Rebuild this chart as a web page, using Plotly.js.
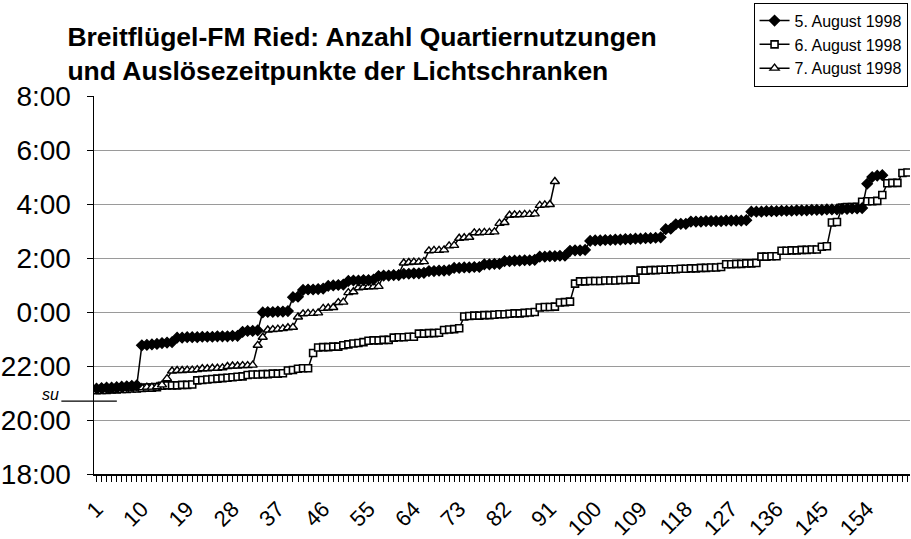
<!DOCTYPE html>
<html>
<head>
<meta charset="utf-8">
<script src="https://cdn.plot.ly/plotly-3.0.1.min.js"></script>
<style>html,body{margin:0;padding:0;background:#fff;}#chart{width:911px;height:539px;}</style>
</head>
<body>
<div id="chart"></div>
<script>
// Series names
const seriesNames = ["5. August 1998", "6. August 1998", "7. August 1998"];

// Release times (clock time) per use number
const aug5 = [
 "21:10","21:11","21:12","21:12","21:13","21:14","21:15","21:16","21:17",
 "22:46","22:47","22:48","22:49","22:51","22:52","22:53",
 "23:03","23:03","23:04","23:04","23:04","23:05","23:05","23:05","23:06","23:06","23:06","23:07","23:07",
 "23:16","23:18","23:18","23:19",
 "23:59","0:00","0:00","0:01","0:01","0:02",
 "0:33","0:34",
 "0:49","0:50","0:50","0:51","0:52",
 "0:58","0:59","1:00","1:01",
 "1:09","1:10","1:10","1:11","1:11","1:12",
 "1:20","1:21","1:21","1:22","1:22",
 "1:25","1:25","1:26","1:26","1:27",
 "1:31","1:31","1:32","1:32","1:33",
 "1:38","1:38","1:39","1:39","1:40","1:40",
 "1:46","1:46","1:47","1:47",
 "1:53","1:53","1:54","1:54","1:55","1:55","1:56",
 "2:03","2:03","2:04","2:04","2:05","2:05",
 "2:16","2:17","2:17","2:18",
 "2:38","2:39","2:39","2:40","2:40","2:41","2:41","2:42","2:42","2:43","2:43","2:44","2:44","2:45","2:46",
 "3:04","3:05",
 "3:15","3:16","3:16",
 "3:21","3:21","3:21","3:22","3:22","3:22","3:22","3:23","3:23","3:23","3:23","3:24",
 "3:43","3:43","3:43","3:44","3:44","3:44","3:45","3:45","3:45","3:46","3:46","3:46","3:47","3:47","3:47","3:48","3:48","3:48","3:49","3:49","3:50","3:50","3:51",
 "4:45","5:00","5:03","5:04"
];

const aug6 = [
 "21:06","21:07","21:07","21:08","21:08","21:09","21:09","21:10","21:10","21:11","21:12","21:12","21:13",
 "21:16","21:17","21:17","21:17","21:18","21:18","21:19",
 "21:28","21:29","21:30","21:31","21:32","21:33","21:34","21:35","21:36","21:37",
 "21:40","21:41","21:41","21:42","21:42","21:43","21:43","21:44",
 "21:50","21:51",
 "21:54","21:55","21:55",
 "22:29",
 "22:41","22:42","22:42","22:43","22:43",
 "22:46","22:48","22:50","22:51","22:53","22:56","22:57","22:57","22:58","22:58","23:03","23:04","23:04","23:05","23:05",
 "23:12","23:12","23:13","23:13","23:14",
 "23:20","23:21","23:22","23:24",
 "23:50","23:51","23:52","23:52","23:53","23:53","23:54","23:55","23:55","23:56","23:57","23:57","23:58","23:59","0:00",
 "0:10","0:11","0:11","0:12",
 "0:21","0:22","0:23",
 "1:03",
 "1:08","1:08","1:09","1:09","1:09","1:10","1:10","1:10","1:11","1:11","1:12","1:12",
 "1:32","1:32","1:33","1:33","1:34","1:34","1:35","1:35","1:36","1:36","1:37","1:37","1:38","1:38","1:39","1:39","1:40",
 "1:46","1:46","1:47","1:47","1:48","1:48","1:49",
 "2:03","2:03","2:04","2:04",
 "2:16","2:16","2:17","2:17","2:18","2:18","2:19","2:19",
 "2:25","2:26",
 "3:19","3:20",
 "3:52","3:53","3:53","3:54",
 "4:05","4:06","4:06","4:07",
 "4:20",
 "4:46","4:47","4:47",
 "5:09","5:10"
];

const aug7 = [
 "21:08","21:08","21:09","21:09","21:10","21:10","21:11","21:11","21:12","21:12","21:13","21:13","21:14",
 "21:18","21:32",
 "21:49","21:50","21:50","21:51","21:51","21:52",
 "21:54","21:54","21:55","21:55","21:56",
 "21:59","22:00","22:00","22:01","22:01","22:02",
 "22:46",
 "23:04",
 "23:20","23:21","23:22","23:23","23:25","23:26",
 "23:49","23:56","23:57","23:57","23:58",
 "0:08","0:09","0:10",
 "0:21","0:22",
 "0:43","0:45",
 "0:54","0:55","0:56","0:56","0:57",
 "1:21","1:22","1:23","1:24",
 "1:49","1:50","1:51","1:51","1:52",
 "2:16","2:17","2:17","2:18",
 "2:27","2:28",
 "2:44","2:45","2:46",
 "2:56","2:56","2:57","2:57","2:58",
 "3:17","3:19",
 "3:35","3:36","3:36","3:37","3:37","3:38",
 "3:57","3:58","3:59",
 "4:50"
];

// Axis tick labels
const xTickLabels = ["1","10","19","28","37","46","55","64","73","82","91","100","109","118","127","136","145","154"];
const categoryCount = 162;
const yTickLabels = ["18:00","20:00","22:00","0:00","2:00","4:00","6:00","8:00"];

// hours after 18:00 of the evening
function toHours(t) {
  const p = t.split(":");
  let h = parseInt(p[0], 10) + parseInt(p[1], 10) / 60;
  if (h < 12) h += 24;
  return h - 18;
}

const categories = [];
for (let i = 1; i <= categoryCount; i++) categories.push(i);

function trace(vals, name, symbol, fill, size, lw, rank) {
  return {
    type: "scatter", mode: "lines+markers", name: name,
    x: vals.map((v, i) => i + 1),
    y: vals.map(toHours),
    text: vals,
    legendrank: rank,
    line: {color: "#000", width: 1.5},
    marker: {symbol: symbol, size: size, color: fill, line: {color: "#000", width: lw}}
  };
}

const data = [
  trace(aug6, seriesNames[1], "square", "#fff", 7, 1.6, 2),
  trace(aug7, seriesNames[2], "triangle-up", "#fff", 8, 1.4, 3),
  trace(aug5, seriesNames[0], "diamond", "#000", 8, 1.3, 1)
];

const ticktextX = categories.map(c => xTickLabels.indexOf(String(c)) >= 0 ? String(c) : "");
const tickvalsY = yTickLabels.map(toHours);

const font = "Liberation Sans, Arial, sans-serif";

const layout = {
  width: 911, height: 539,
  margin: {l: 94, r: 1, t: 96, b: 65},
  paper_bgcolor: "#fff", plot_bgcolor: "#fff",
  font: {family: font, color: "#000"},
  showlegend: true,
  title: {
    text: "<b>Breitflügel-FM Ried: Anzahl Quartiernutzungen<br>und Auslösezeitpunkte der Lichtschranken</b>",
    font: {family: font, size: 26.5, color: "#000"},
    xref: "container", x: 0.074, xanchor: "left",
    yref: "container", y: 0.915, yanchor: "top"
  },
  xaxis: {
    range: [0.5, categoryCount + 0.5],
    tickvals: categories, ticktext: ticktextX,
    tickangle: -45,
    ticks: "outside", ticklen: 6, tickcolor: "#000", tickwidth: 1,
    ticklabelstandoff: 6,
    showline: true, linecolor: "#000", linewidth: 1.5,
    showgrid: false, zeroline: false,
    tickfont: {family: font, size: 22, color: "#000"}
  },
  yaxis: {
    range: [0, 14],
    tickvals: tickvalsY, ticktext: yTickLabels,
    ticks: "outside", ticklen: 6, tickcolor: "#000",
    ticklabelstandoff: 10,
    showline: true, linecolor: "#000", linewidth: 1.5,
    showgrid: true, gridcolor: "#9a9a9a", gridwidth: 1,
    zeroline: false,
    tickfont: {family: font, size: 28, color: "#000"}
  },
  legend: {
    x: 0.997, xanchor: "right", y: 1.247, yanchor: "top",
    bordercolor: "#000", borderwidth: 1, bgcolor: "#fff",
    font: {family: font, size: 16, color: "#000"},
    traceorder: "normal", tracegroupgap: 0
  },
  annotations: [{
    text: "<i>su</i>", xref: "paper", yref: "y", x: -0.04, y: 2.95,
    xanchor: "right", yanchor: "middle", showarrow: false,
    font: {family: font, size: 16, color: "#000"}
  }],
  shapes: [{
    type: "line", xref: "paper", yref: "y", x0: -0.04, x1: 0.028, y0: 2.7, y1: 2.7,
    line: {color: "#000", width: 1.2}
  }]
};

Plotly.newPlot("chart", data, layout, {displayModeBar: false, staticPlot: true});
</script>
</body>
</html>
